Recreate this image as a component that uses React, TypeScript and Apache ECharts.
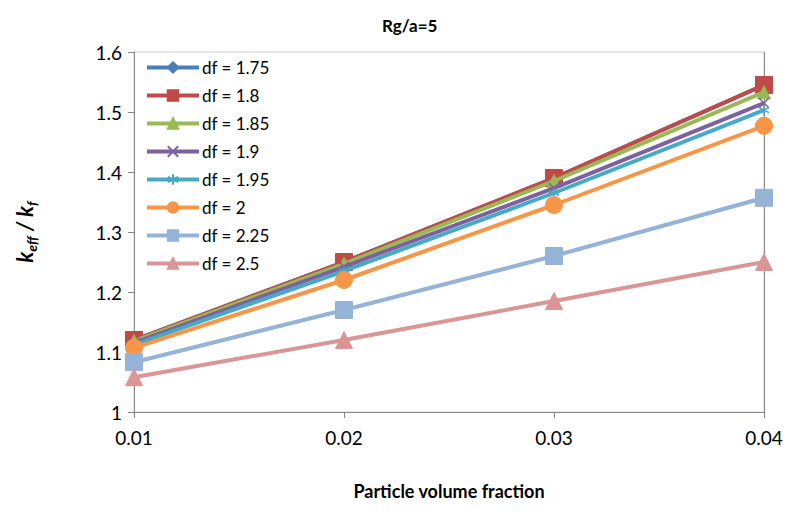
import React, { useEffect, useRef } from "react";
import * as echarts from "echarts";

const categories = ["0.01", "0.02", "0.03", "0.04"];
const seriesNames = ["df = 1.75", "df = 1.8", "df = 1.85", "df = 1.9", "df = 1.95", "df = 2", "df = 2.25", "df = 2.5"];
const df175 = [1.12, 1.25, 1.39, 1.545];
const df18 = [1.12, 1.25, 1.39, 1.545];
const df185 = [1.118, 1.247, 1.385, 1.533];
const df19 = [1.115, 1.242, 1.373, 1.515];
const df195 = [1.112, 1.235, 1.365, 1.503];
const df2 = [1.107, 1.22, 1.345, 1.477];
const df225 = [1.083, 1.17, 1.26, 1.357];
const df25 = [1.058, 1.12, 1.185, 1.25];
const yTicks = [1, 1.1, 1.2, 1.3, 1.4, 1.5, 1.6];

const FONT = "Lato, 'Open Sans', sans-serif";

const xShape = "path://M0,0L10,10M10,0L0,10";
const starShape = "path://M5,0L5,10M0,2.5L10,7.5M10,2.5L0,7.5";

export default function App() {
  const ref = useRef<HTMLDivElement>(null);
  useEffect(() => {
    if (!ref.current) return;
    const chart = echarts.init(ref.current, undefined, { renderer: "svg" });
    const values = [df175, df18, df185, df19, df195, df2, df225, df25];
    const colors = ["#4a7ebb", "#be4b48", "#98b954", "#7d60a0", "#46aac5", "#f79646", "#95b3d7", "#d99694"];
    const symbols = ["diamond", "rect", "triangle", xShape, starShape, "circle", "rect", "triangle"];
    const sizes = [9, 17, 13, 10, 10, 17, 17, 17];
    const series = values.map((v, i) => {
      const stroked = i === 3 || i === 4;
      return {
        name: seriesNames[i],
        type: "line",
        data: v,
        color: colors[i],
        symbol: symbols[i],
        symbolSize: sizes[i],
        showSymbol: true,
        lineStyle: { width: 4, color: colors[i] },
        itemStyle: stroked
          ? { color: colors[i], borderColor: colors[i], borderWidth: 1.5 }
          : { color: colors[i], borderColor: colors[i], borderWidth: 1 },
        z: 2 + i,
      };
    });
    chart.setOption({
      animation: false,
      backgroundColor: "#ffffff",
      textStyle: { fontFamily: FONT },
      title: {
        text: "Rg/a=5",
        left: 377,
        top: 12,
        textStyle: { fontFamily: FONT, fontSize: 17, fontWeight: "bold", color: "#000" },
      },
      grid: {
        left: 134,
        right: 24,
        top: 52,
        bottom: 112,
        show: true,
        borderColor: "#d0d0d0",
        borderWidth: 1,
      },
      legend: {
        orient: "vertical",
        left: 140,
        top: 54,
        itemWidth: 52,
        itemHeight: 13,
        itemGap: 11,
        data: seriesNames,
        lineStyle: { width: 4 },
        textStyle: { fontFamily: FONT, fontSize: 17, color: "#000", padding: [0, 0, 0, -2] },
      },
      xAxis: {
        type: "category",
        data: categories,
        boundaryGap: false,
        axisLine: { lineStyle: { color: "#868686", width: 1 } },
        axisTick: { show: true, length: 6, lineStyle: { color: "#868686" } },
        axisLabel: { color: "#000", fontSize: 19, fontFamily: FONT, margin: 16 },
        splitLine: { show: false },
        name: "Particle volume fraction",
        nameLocation: "middle",
        nameGap: 70,
        nameTextStyle: { fontFamily: FONT, fontSize: 18, fontWeight: "bold", color: "#000" },
      },
      yAxis: [
        {
          type: "value",
          min: 1,
          max: 1.6,
          interval: 0.1,
          axisLine: { show: true, lineStyle: { color: "#868686", width: 1 } },
          axisTick: { show: true, length: 6, lineStyle: { color: "#868686" } },
          axisLabel: {
            color: "#000",
            fontSize: 19,
            fontFamily: FONT,
            margin: 12,
            formatter: (v: number) => {
              const t = yTicks.find((x) => Math.abs(x - v) < 1e-6);
              if (t === undefined) return "";
              return t === 1 ? "1" : t.toFixed(1);
            },
          },
          splitLine: { show: false },
          name: "{k|k}{s|eff}{k| / k}{s|f}",
          nameLocation: "middle",
          nameRotate: 90,
          nameGap: 96,
          nameTextStyle: {
            rich: {
              k: { fontFamily: FONT, fontSize: 22, fontStyle: "italic", fontWeight: "bold", color: "#000", lineHeight: 28, verticalAlign: "middle" },
              s: { fontFamily: FONT, fontSize: 14, fontStyle: "italic", fontWeight: "bold", color: "#000", lineHeight: 14, verticalAlign: "bottom" },
            },
          },
        },
        {
          type: "value",
          min: 1,
          max: 1.6,
          interval: 0.1,
          position: "right",
          axisLine: { show: true, lineStyle: { color: "#868686", width: 1 } },
          axisTick: { show: false },
          axisLabel: { show: false },
          splitLine: { show: false },
        },
      ],
      series,
    });
    return () => chart.dispose();
  }, []);
  return <div ref={ref} style={{ position: "fixed", left: 0, top: 0, width: 788, height: 524 }} />;
}
